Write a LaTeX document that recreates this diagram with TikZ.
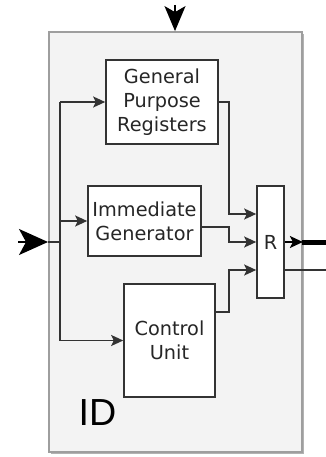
\documentclass[tikz,border=0pt]{standalone}
\usepackage{fontspec}
\usetikzlibrary{arrows.meta}
\newfontfamily\boxfont{DejaVu Sans}
\newfontfamily\idfont{Liberation Sans}
\definecolor{outerfill}{HTML}{F3F3F3}
\definecolor{outerline}{HTML}{9E9E9E}
\definecolor{boxline}{HTML}{333333}
\definecolor{txt}{HTML}{262626}
\begin{document}
\begin{tikzpicture}[x=1pt,y=-1pt,
  blk/.style={draw=boxline,line width=1.6pt,fill=white,inner sep=0pt,align=center,
    text=txt,font=\boxfont\fontsize{19.3}{24}\selectfont},
  conn/.style={draw=boxline,line width=1.5pt,-{Stealth[length=12pt,width=11pt,inset=2.5pt]}},
  wire/.style={draw=boxline,line width=1.5pt},
  bigin/.style={draw=black,line width=1.5pt,-{Stealth[length=29pt,width=26pt,inset=7pt]}}]
\useasboundingbox (0,0) rectangle (326,457);
% outer box with shadow
\fill[gray!60] (51,34) rectangle (304,454);
\node[draw=outerline,line width=1.8pt,fill=outerfill,minimum width=253pt,minimum height=420pt,inner sep=0pt] (outer) at (175.5,242) {};
% blocks
\node[blk,minimum width=112pt,minimum height=84pt] (gpr) at (162,102) {General\\Purpose\\Registers};
\node[blk,minimum width=113pt,minimum height=70pt] (ig) at (144.5,221) {Immediate\\Generator};
\node[blk,minimum width=91pt,minimum height=113pt] (cu) at (169.5,340.5) {Control\\Unit};
\node[blk,minimum width=27pt,minimum height=112pt] (r) at (270.5,242) {R};
\node[anchor=base west,inner sep=0pt,text=black,font=\idfont\fontsize{37.7}{40}\selectfont] (id) at (78.5,425) {ID};
% bus coordinates
\coordinate (inL) at (18,242);
\coordinate (inT) at (48,242);
\coordinate (bus) at (60,242);
\coordinate (topS) at (175,5);
\coordinate (outE) at (326,242);
\coordinate (outE2) at (326,270);
% input arrows
\draw[bigin] (inL) -- (inT);
\draw[wire] (inT) -- (bus);
\draw[draw=black,line width=1.5pt,-{Stealth[length=25pt,width=21pt,inset=6pt]}] (topS) -- (outer.north -| topS);
% bus
\draw[wire] (bus |- gpr.west) -- (bus |- cu.west);
\draw[conn] (bus |- gpr.west) -- (gpr.west);
\draw[conn] (bus |- ig.west) -- (ig.west);
\draw[conn] (bus |- cu.west) -- (cu.west);
% outputs to R
\draw[conn] (gpr.east) -| (229,214) -- (r.west |- 0,214);
\draw[conn] (ig.east |- 0,227) -| (229,242) -- (r.west);
\draw[conn] (cu.east |- 0,312) -| (229,270) -- (r.west |- 0,270);
% R outputs
\draw[draw=black,line width=1.5pt,-{Stealth[length=13pt,width=12pt,inset=3pt]}] (r.east) -- (outer.east |- r.east);
\draw[draw=black,line width=5pt] (outer.east |- r.east) ++(-1,0) -- (outE);
\draw[wire] (r.east |- outE2) -- (outE2);
\end{tikzpicture}
\end{document}
